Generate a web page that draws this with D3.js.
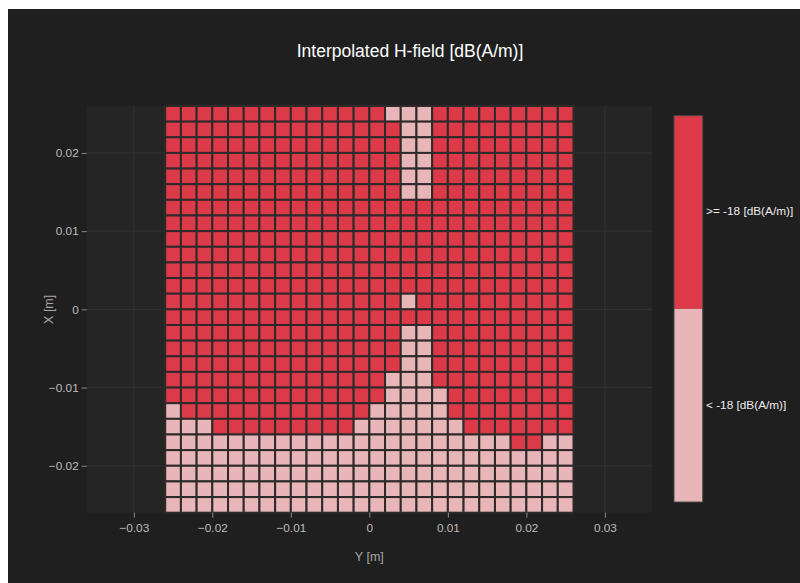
<!DOCTYPE html>
<html>
<head>
<meta charset="utf-8">
<script src="https://cdn.jsdelivr.net/npm/d3@7"></script>
<style>
  body { margin: 0; background: #ffffff; }
  svg { display: block; font-family: "Liberation Sans", Arial, sans-serif; }
</style>
</head>
<body>
<svg></svg>
<script>
// cell centres [m], 2 mm pitch
var yCentres = [-0.025, -0.023, -0.021, -0.019, -0.017, -0.015, -0.013, -0.011, -0.009, -0.007,
  -0.005, -0.003, -0.001, 0.001, 0.003, 0.005, 0.007, 0.009, 0.011, 0.013,
  0.015, 0.017, 0.019, 0.021, 0.023, 0.025];
var xCentres = yCentres.slice().reverse(); // rows listed top to bottom
// 1 = ">= -18", 0 = "< -18", one string per row (top row first)
var levelRows = [
  "11111111111111000111111111",
  "11111111111111100111111111",
  "11111111111111100111111111",
  "11111111111111100111111111",
  "11111111111111100111111111",
  "11111111111111100111111111",
  "11111111111111111111111111",
  "11111111111111111111111111",
  "11111111111111111111111111",
  "11111111111111111111111111",
  "11111111111111111111111111",
  "11111111111111111111111111",
  "11111111111111101111111111",
  "11111111111111111111111111",
  "11111111111111100111111111",
  "11111111111111100111111111",
  "11111111111111100111111111",
  "11111111111111000111111111",
  "11111111111111000011111111",
  "01111111111110000011111111",
  "00011111111100000001111111",
  "00000000000000000000001100",
  "00000000000000000000000000",
  "00000000000000000000000000",
  "00000000000000000000000000",
  "00000000000000000000000000"
];
var levelLabels = ["< -18 [dB(A/m)]", ">= -18 [dB(A/m)]"];
var levelColours = ["#e8b5b9", "#dc3a48"];
var yTicks = [-0.03, -0.02, -0.01, 0, 0.01, 0.02, 0.03];
var xTicks = [-0.02, -0.01, 0, 0.01, 0.02];

var screen = { width: 800, height: 583 };
var plot = { left: 86.7, right: 652, top: 106, bottom: 512.7 };

var svg = d3.select('svg')
  .attr('width', screen.width)
  .attr('height', screen.height);

svg.append('rect')
  .attr('x', 8).attr('y', 9)
  .attr('width', screen.width - 8).attr('height', screen.height - 9)
  .attr('fill', '#1f1f1f');

var xScale = d3.scaleLinear().domain([-0.036, 0.036]).range([plot.left, plot.right]);
var yScale = d3.scaleLinear().domain([-0.026, 0.026]).range([plot.bottom, plot.top]);
var colour = d3.scaleOrdinal().domain([0, 1]).range(levelColours);

// plot background + grid
svg.append('rect')
  .attr('x', plot.left).attr('y', plot.top)
  .attr('width', plot.right - plot.left).attr('height', plot.bottom - plot.top)
  .attr('fill', '#252525');

svg.append('g').selectAll('line').data(yTicks).join('line')
  .attr('x1', function(d){ return xScale(d); }).attr('x2', function(d){ return xScale(d); })
  .attr('y1', plot.top).attr('y2', plot.bottom)
  .attr('stroke', '#333333').attr('stroke-width', 1);
svg.append('g').selectAll('line').data(xTicks).join('line')
  .attr('y1', function(d){ return yScale(d); }).attr('y2', function(d){ return yScale(d); })
  .attr('x1', plot.left).attr('x2', plot.right)
  .attr('stroke', '#333333').attr('stroke-width', 1);

// cells
var cells = [];
levelRows.forEach(function(row, r) {
  row.split('').forEach(function(ch, c) {
    cells.push({ y: yCentres[c], x: xCentres[r], level: +ch });
  });
});
var half = 0.001;
svg.append('g').selectAll('rect').data(cells).join('rect')
  .attr('x', function(d){ return xScale(d.y - half); })
  .attr('y', function(d){ return yScale(d.x + half); })
  .attr('width', function(d){ return xScale(d.y + half) - xScale(d.y - half); })
  .attr('height', function(d){ return yScale(d.x - half) - yScale(d.x + half); })
  .attr('fill', function(d){ return colour(d.level); })
  .attr('stroke', '#2e2a2a')
  .attr('stroke-width', 2);

// axes
var fmt = function(d){ return d === 0 ? '0' : d3.format('.2f')(d); };
var xAxis = svg.append('g')
  .attr('transform', 'translate(0,' + plot.bottom + ')')
  .call(d3.axisBottom(xScale).tickValues(yTicks).tickFormat(fmt).tickSize(5).tickPadding(6));
var yAxis = svg.append('g')
  .attr('transform', 'translate(' + plot.left + ',0)')
  .call(d3.axisLeft(yScale).tickValues(xTicks).tickFormat(fmt).tickSize(5).tickPadding(3));
[xAxis, yAxis].forEach(function(a) {
  a.select('.domain').remove();
  a.selectAll('line').attr('stroke', '#8a8a8a');
  a.selectAll('text').attr('fill', '#bdbdbd').style('font-size', '11.8px')
    .style('font-family', '"Liberation Sans", Arial, sans-serif');
});

svg.append('text')
  .attr('x', xScale(0)).attr('y', 558)
  .attr('text-anchor', 'middle').attr('dominant-baseline', 'middle')
  .attr('fill', '#a8a8a8').style('font-size', '12.5px')
  .text('Y [m]');
svg.append('text')
  .attr('transform', 'translate(50,' + yScale(0) + ') rotate(-90)')
  .attr('text-anchor', 'middle').attr('dominant-baseline', 'middle')
  .attr('fill', '#a8a8a8').style('font-size', '12.5px')
  .text('X [m]');

svg.append('text')
  .attr('x', 410).attr('y', 52)
  .attr('text-anchor', 'middle').attr('dominant-baseline', 'middle')
  .attr('fill', '#ffffff').style('font-size', '17.5px')
  .text('Interpolated H-field [dB(A/m)]');

// colour bar
var barScale = d3.scaleBand().domain([1, 0]).range([115.7, 502]).padding(0);
var bar = svg.append('g');
bar.selectAll('rect').data([1, 0]).join('rect')
  .attr('x', 674).attr('width', 28.7)
  .attr('y', function(d){ return barScale(d); })
  .attr('height', barScale.bandwidth())
  .attr('fill', function(d){ return colour(d); });
bar.append('rect')
  .attr('x', 674).attr('y', 115.7).attr('width', 28.7).attr('height', 502 - 115.7)
  .attr('fill', 'none').attr('stroke', '#4a4a4a').attr('stroke-width', 1);
bar.selectAll('text').data([1, 0]).join('text')
  .attr('x', 706)
  .attr('y', function(d){ return barScale(d) + barScale.bandwidth() / 2; })
  .attr('dominant-baseline', 'middle')
  .attr('fill', '#ececec').style('font-size', '11.8px')
  .text(function(d){ return levelLabels[d]; });
</script>
</body>
</html>
